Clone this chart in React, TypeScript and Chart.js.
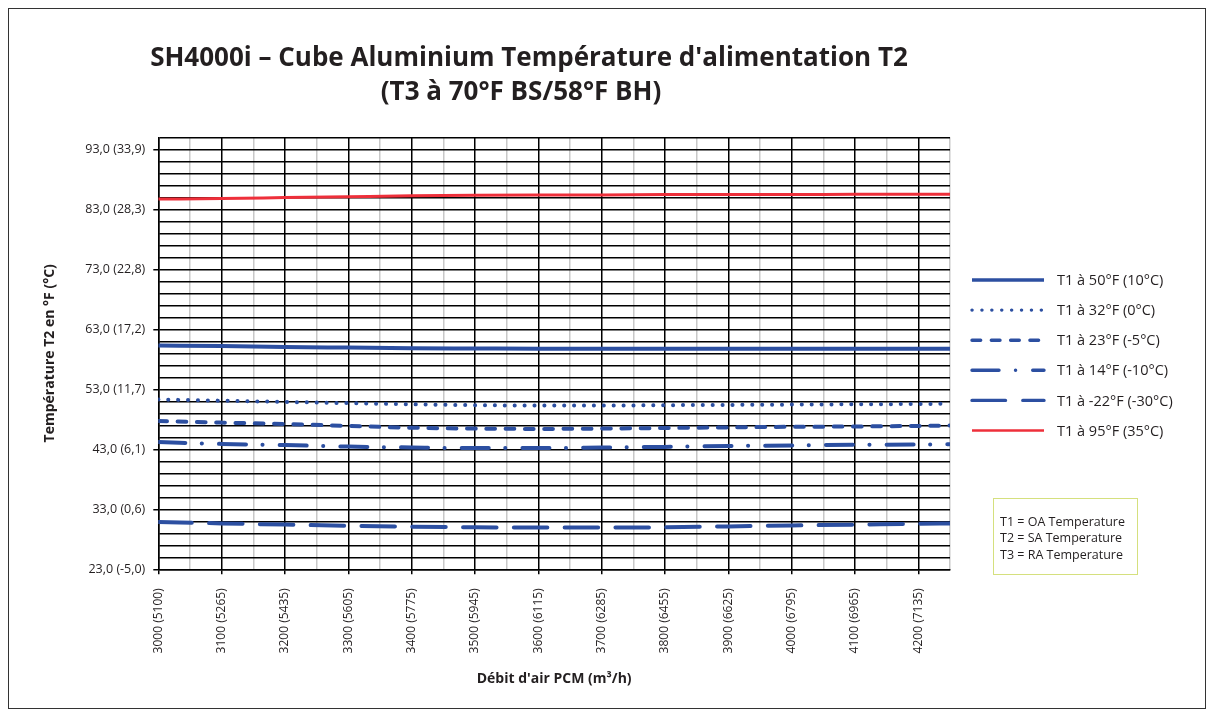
import React, { useEffect, useRef } from 'react';
import { Chart, registerables } from 'chart.js';

Chart.register(...registerables);

// ---------- data ----------
const airflowCfm = [3000, 3100, 3200, 3300, 3400, 3500, 3600, 3700, 3800, 3900, 4000, 4100, 4200, 4250];

const t1At50F = [60.3, 60.2, 60.05, 59.95, 59.85, 59.8, 59.75, 59.75, 59.75, 59.75, 59.75, 59.75, 59.75, 59.75];
const t1At32F = [51.3, 51.1, 50.9, 50.7, 50.5, 50.35, 50.3, 50.3, 50.35, 50.4, 50.45, 50.5, 50.55, 50.6];
const t1At23F = [47.7, 47.45, 47.2, 46.9, 46.6, 46.45, 46.4, 46.45, 46.55, 46.65, 46.75, 46.8, 46.9, 46.95];
const t1At14F = [44.2, 43.9, 43.7, 43.45, 43.3, 43.2, 43.2, 43.3, 43.4, 43.55, 43.65, 43.75, 43.8, 43.85];
const t1AtMinus22F = [30.9, 30.65, 30.45, 30.25, 30.1, 30.0, 29.95, 29.95, 30.0, 30.15, 30.3, 30.45, 30.6, 30.65];
const t1At95F = [84.7, 84.8, 84.95, 85.1, 85.25, 85.35, 85.4, 85.4, 85.45, 85.45, 85.45, 85.5, 85.5, 85.5];

const seriesLabels = [
  'T1 à 50°F (10°C)',
  'T1 à 32°F (0°C)',
  'T1 à 23°F (-5°C)',
  'T1 à 14°F (-10°C)',
  'T1 à -22°F (-30°C)',
  'T1 à 95°F (35°C)',
];

const xTickValues = [3000, 3100, 3200, 3300, 3400, 3500, 3600, 3700, 3800, 3900, 4000, 4100, 4200];
const xTickLabels = [
  '3000 (5100)', '3100 (5265)', '3200 (5435)', '3300 (5605)', '3400 (5775)', '3500 (5945)',
  '3600 (6115)', '3700 (6285)', '3800 (6455)', '3900 (6625)', '4000 (6795)', '4100 (6965)', '4200 (7135)',
];
const yTickValues = [23, 33, 43, 53, 63, 73, 83, 93];
const yTickLabels = [
  '23,0 (-5,0)', '33,0 (0,6)', '43,0 (6,1)', '53,0 (11,7)',
  '63,0 (17,2)', '73,0 (22,8)', '83,0 (28,3)', '93,0 (33,9)',
];

const titleLines = ["SH4000i – Cube Aluminium Température d'alimentation T2", '(T3 à 70°F BS/58°F BH)'];
const noteLines = ['T1 = OA Temperature', 'T2 = SA Temperature', 'T3 = RA Temperature'];
const xAxisTitle = "Débit d'air PCM (m³/h)";
const yAxisTitle = 'Température T2 en °F (°C)';

// ---------- styles ----------
const FONT = '"Open Sans", "Noto Sans", sans-serif';
const TEXT = '#231f20';
const BLUE = '#2c4fa1';
const RED = '#ee2f3a';

const X_MIN = 3000;
const X_MAX = 4250;
const Y_MIN = 23;
const Y_MAX = 95;

const overlayPlugin = {
  id: 'overlay',
  afterDraw(chart: any) {
    const ctx: CanvasRenderingContext2D = chart.ctx;
    ctx.save();
    // title
    ctx.fillStyle = TEXT;
    ctx.textAlign = 'center';
    ctx.textBaseline = 'middle';
    ctx.font = `bold 26px ${FONT}`;
    ctx.fillText(titleLines[0], 520, 50);
    ctx.fillText(titleLines[1], 512, 84);

    // legend
    chart.data.datasets.forEach((ds: any, i: number) => {
      const y = 271 + i * 30.1;
      ctx.beginPath();
      ctx.setLineDash(ds.borderDash || []);
      ctx.lineDashOffset = 0;
      ctx.lineCap = ds.borderCapStyle || 'butt';
      ctx.lineWidth = ds.borderWidth - 0.6;
      ctx.strokeStyle = ds.borderColor;
      ctx.moveTo(963, y);
      ctx.lineTo(1035, y);
      ctx.stroke();
      ctx.setLineDash([]);
      ctx.fillStyle = TEXT;
      ctx.textAlign = 'left';
      ctx.font = `14.5px ${FONT}`;
      ctx.fillText(ds.label, 1048, y + 1);
    });

    // note box
    ctx.setLineDash([]);
    ctx.lineWidth = 1;
    ctx.strokeStyle = '#d5e07e';
    ctx.strokeRect(984.5, 489.5, 144, 76);
    ctx.fillStyle = TEXT;
    ctx.textAlign = 'left';
    ctx.font = `12.5px ${FONT}`;
    noteLines.forEach((t, i) => ctx.fillText(t, 991, 513 + i * 16.5));
    ctx.restore();
  },
};

function buildDatasets() {
  const series = [t1At50F, t1At32F, t1At23F, t1At14F, t1AtMinus22F, t1At95F];
  const dashes = [[], [0.1, 9.8], [8.7, 10.6], [27, 16.5, 0.1, 17.1], [33.5, 17.3], []];
  const caps = ['butt', 'round', 'round', 'round', 'round', 'butt'];
  return series.map((vals, i) => ({
    label: seriesLabels[i],
    data: airflowCfm.map((x, j) => ({ x, y: vals[j] })),
    borderColor: i === 5 ? RED : BLUE,
    backgroundColor: i === 5 ? RED : BLUE,
    borderWidth: i === 5 ? 3 : 4,
    borderDash: dashes[i],
    borderCapStyle: caps[i],
    pointRadius: 0,
    cubicInterpolationMode: 'monotone',
    fill: false,
  }));
}

export default function App() {
  const canvasRef = useRef<HTMLCanvasElement | null>(null);

  useEffect(() => {
    if (!canvasRef.current) return;
    Chart.defaults.font.family = FONT;
    Chart.defaults.color = TEXT;
    const chart = new Chart(canvasRef.current, {
      type: 'line',
      data: { datasets: buildDatasets() as any },
      options: {
        animation: false,
        responsive: true,
        maintainAspectRatio: false,
        devicePixelRatio: 1,
        layout: { padding: { top: 128.3, right: 255, left: 0, bottom: 0 } },
        plugins: {
          legend: { display: false },
          title: { display: false },
          tooltip: { enabled: false },
        },
        scales: {
          x: {
            type: 'linear',
            min: X_MIN,
            max: X_MAX,
            afterBuildTicks: (scale: any) => {
              const t = [];
              for (let v = X_MIN; v <= X_MAX; v += 50) t.push({ value: v });
              scale.ticks = t;
            },
            afterFit: (scale: any) => {
              scale.height = 138.7;
            },
            ticks: {
              autoSkip: false,
              maxRotation: 90,
              minRotation: 90,
              padding: 14,
              color: TEXT,
              font: { size: 12, family: FONT },
              callback: (v: any) => {
                const i = xTickValues.indexOf(Number(v));
                return i >= 0 ? xTickLabels[i] : '';
              },
            },
            grid: {
              color: (c: any) => (c.tick && c.tick.value % 100 === 0 ? '#000000' : '#c8c8c8'),
              lineWidth: 1.5,
              tickLength: 5,
              tickWidth: 1.5,
              tickColor: (c: any) => (c.tick && c.tick.value % 100 === 0 ? '#000000' : 'rgba(0,0,0,0)'),
            },
            border: { color: '#000000', width: 1.5 },
            title: {
              display: true,
              text: xAxisTitle,
              color: TEXT,
              font: { size: 14, weight: 'bold', family: FONT },
              padding: { top: 0, bottom: 21 },
            },
          },
          y: {
            type: 'linear',
            min: Y_MIN,
            max: Y_MAX,
            afterBuildTicks: (scale: any) => {
              const t = [];
              for (let v = Y_MIN; v <= Y_MAX; v += 2) t.push({ value: v });
              scale.ticks = t;
            },
            afterFit: (scale: any) => {
              scale.width = 149.3;
            },
            ticks: {
              autoSkip: false,
              padding: 8,
              color: TEXT,
              font: { size: 12.5, family: FONT },
              callback: (v: any) => {
                const i = yTickValues.indexOf(Number(v));
                return i >= 0 ? yTickLabels[i] : '';
              },
            },
            grid: {
              color: '#000000',
              lineWidth: 1.5,
              tickLength: 5,
              tickWidth: 1.5,
              tickColor: (c: any) => (c.tick && yTickValues.includes(c.tick.value) ? '#000000' : 'rgba(0,0,0,0)'),
            },
            border: { color: '#000000', width: 1.5 },
            title: {
              display: true,
              text: yAxisTitle,
              color: TEXT,
              font: { size: 14, weight: 'bold', family: FONT },
              padding: { top: 33, bottom: 0 },
            },
          },
        },
      } as any,
      plugins: [overlayPlugin as any],
    });
    return () => chart.destroy();
  }, []);

  return (
    <div style={{ position: 'relative', width: 1196, height: 699, border: '1px solid #333' }}>
      <canvas ref={canvasRef} />
    </div>
  );
}
